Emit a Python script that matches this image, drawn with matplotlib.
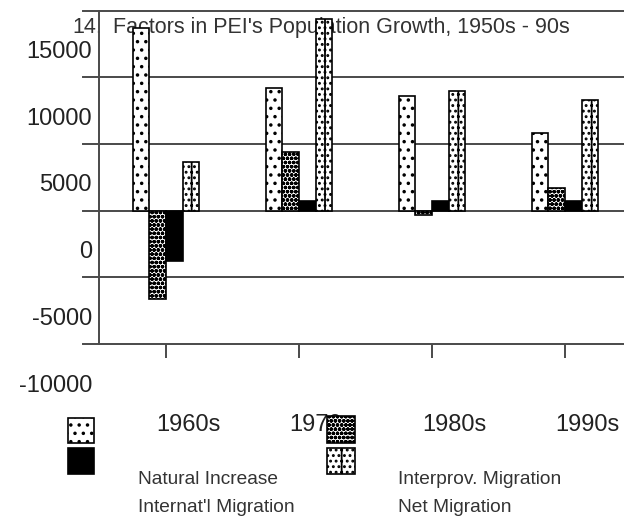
import matplotlib
matplotlib.use("Agg")
import matplotlib.pyplot as plt
from matplotlib.patches import Rectangle
import numpy as np

plt.rcParams['font.family'] = ['Liberation Sans', 'DejaVu Sans']
plt.rcParams['hatch.linewidth'] = 1.3

# ---- data ----
categories = ["1960s", "1970s", "1980s", "1990s"]
series_names = ["Natural Increase", "Interprov. Migration", "Internat'l Migration", "Net Migration"]
natural_increase = [13660, 9190, 8590, 5820]
interprov_migration = [-6620, 4400, -340, 1660]
internatl_migration = [-3780, 710, 710, 730]
net_migration = [3630, 14400, 8970, 8320]
yticks = [15000, 10000, 5000, 0, -5000, -10000]
ytick_labels = ["15000", "10000", "5000", "0", "-5000", "-10000"]
title_num = "14."
title_text = "Factors in PEI's Population Growth, 1950s - 90s"

W, H = 624, 519
fig = plt.figure(figsize=(W / 100, H / 100), dpi=100)
ax_left, ax_right, ax_top, ax_bottom = 99, 624, 10.5, 344
ax = fig.add_axes([ax_left / W, (H - ax_bottom) / H, (ax_right - ax_left) / W, (ax_bottom - ax_top) / H])

ax.set_ylim(-10000, 15000)
x = np.arange(len(categories))
ax.set_xlim(-0.504, 3.444)

grid_col = '#4a4a4a'
for s in ax.spines.values():
    s.set_visible(False)
ax.spines['left'].set_visible(True)
ax.spines['left'].set_color(grid_col)
ax.spines['left'].set_linewidth(1.4)

for v in yticks:
    ax.axhline(v, xmin=-16 / 525, xmax=1, color=grid_col, lw=1.4, clip_on=False, zorder=1.5)

ax.set_yticks([])
ax.set_xticks(x)
ax.set_xticklabels([])
ax.tick_params(axis='x', direction='out', length=10, width=1.4, color=grid_col)

for v, lab in zip(yticks, ytick_labels):
    ax.annotate(lab, xy=(0, v), xycoords=('axes fraction', 'data'), xytext=(-7, -41.5),
                textcoords='offset pixels', ha='right', va='center', fontsize=17,
                color='#222222', annotation_clip=False)

for i, c in enumerate(categories):
    ax.annotate(c, xy=(i, 0), xycoords=('data', 'axes fraction'), xytext=(22, -81),
                textcoords='offset pixels', ha='center', va='center', fontsize=17,
                color='#222222', annotation_clip=False)

bw = 0.125
series = [natural_increase, interprov_migration, internatl_migration, net_migration]
hatches = ['..', 'oooo', None, '...|']
faces = ['white', 'white', 'black', 'white']
offsets = [-1.5, -0.5, 0.5, 1.5]
for vals, h, fc, off in zip(series, hatches, faces, offsets):
    ax.bar(x + off * bw, vals, width=bw, color=fc, edgecolor='black', hatch=h,
           linewidth=1.2, zorder=3)

# title (behind bars)
ax.text(72 / W, (H - 33) / H, title_num, transform=fig.transFigure, fontsize=15.5,
        color='#333333', ha='left', va='baseline', zorder=1)
ax.text(113 / W, (H - 33) / H, title_text, transform=fig.transFigure, fontsize=15.5,
        color='#333333', ha='left', va='baseline', zorder=1)

# legend
leg_boxes = [(68, 418, 26, 25), (327, 416, 28, 27), (68, 448, 26, 26), (327, 448, 28, 26)]
for (lx, ly, lw_, lh), h, fc in zip(leg_boxes, hatches, faces):
    fig.patches.append(Rectangle((lx / W, (H - ly - lh) / H), lw_ / W, lh / H,
                                 transform=fig.transFigure, facecolor=fc, edgecolor='black',
                                 hatch=h, linewidth=1.2))

leg_text_pos = [(138, 479), (398, 479), (138, 508), (398, 508)]
for (tx, ty), name in zip(leg_text_pos, series_names):
    fig.text(tx / W, (H - ty) / H, name, fontsize=13.8, color='#333333', ha='left', va='center')

fig.savefig("out.png", dpi=100)
